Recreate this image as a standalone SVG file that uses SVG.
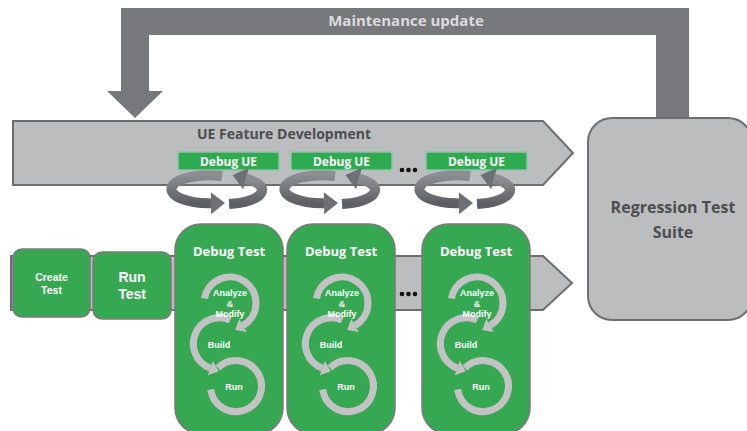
<svg xmlns="http://www.w3.org/2000/svg" width="747" height="431" viewBox="0 0 747 431">
<style>
.band{fill:#bcbdbf;stroke:#6e6e70;stroke-width:2}
.green{fill:#36a852;stroke:#7a7a7a;stroke-width:1.5}
.due{fill:#2eaa4f;stroke:#8fc3ad;stroke-width:1.5}
.t{font-family:"Open Sans","Liberation Sans",sans-serif;font-weight:700;text-anchor:middle}
.s{font-family:"Liberation Sans",Arial,sans-serif;font-weight:700;font-size:9px}
.l{font-family:"Liberation Sans",Arial,sans-serif;font-weight:700}
.w{fill:#ffffff}
.g{fill:#4d4d4f}
.ring{fill:none;stroke:#c3c3c5;stroke-width:7}
.loop{fill:none;stroke:url(#lg);stroke-width:10}
.dot{fill:#111}
</style>
<defs>
<linearGradient id="lg" x1="0" y1="0" x2="0" y2="1">
<stop offset="0" stop-color="#8d8e91"/>
<stop offset="1" stop-color="#5e5f63"/>
</linearGradient>
<marker id="ah" viewBox="0 -8 10 16" refX="0" refY="0" markerWidth="10" markerHeight="16" markerUnits="userSpaceOnUse" orient="auto" overflow="visible">
<path d="M0,-7.5 L9,0 L0,7.5 Z" fill="#c3c3c5"/>
</marker>
<marker id="ahd" viewBox="0 -12 15 24" refX="0" refY="0" markerWidth="15" markerHeight="24" markerUnits="userSpaceOnUse" orient="auto" overflow="visible">
<path d="M0,-11 L14,0 L0,11 Z" fill="#6f7074"/>
</marker>
</defs>

<g id="connectors">
<path id="maintenance-update" d="M121,8 H689 V118 H656 V35 H149 V91 H163 L135,118 L107,91 H121 Z" fill="#77787b"/>
<text class="t" x="406" y="26" font-size="15" fill="#dcdcdd">Maintenance update</text>
</g>

<g id="ue-feature-development">
<polygon class="band" points="13,121 543,121 573,153 543,185 13,185"/>
<text class="t g" x="284" y="139" font-size="14">UE Feature Development</text>
</g>

<g id="test-flow">
<polygon class="band" points="11,256 543,256 572,283 543,310 11,310"/>
</g>

<g id="regression-test-suite">
<rect x="588" y="118" width="164" height="202" rx="24" class="band" stroke-width="2.5"/>
<text class="t g" x="673" y="213" font-size="16">Regression Test</text>
<text class="t g" x="673" y="238" font-size="16">Suite</text>
</g>

<g id="debug-ue-1">
<rect class="due" x="178" y="152" width="101" height="18" rx="2"/>
<text class="t w" x="228.5" y="166" font-size="12">Debug UE</text>
</g>
<g id="debug-ue-2">
<rect class="due" x="291" y="152" width="101" height="18" rx="2"/>
<text class="t w" x="341.5" y="166" font-size="12">Debug UE</text>
</g>
<g id="debug-ue-3">
<rect class="due" x="426" y="152" width="101" height="18" rx="2"/>
<text class="t w" x="476.5" y="166" font-size="12">Debug UE</text>
</g>

<g id="dots-top">
<circle class="dot" cx="402" cy="170" r="2.3"/><circle class="dot" cx="408.5" cy="170" r="2.3"/><circle class="dot" cx="415" cy="170" r="2.3"/>
</g>
<g id="dots-bottom">
<circle class="dot" cx="402" cy="294" r="2.3"/><circle class="dot" cx="408.5" cy="294" r="2.3"/><circle class="dot" cx="415" cy="294" r="2.3"/>
</g>

<g id="loop-1">
<path class="loop" d="M222,176 A38,14 0 1 0 211,203.2" marker-end="url(#ahd)"/>
<path class="loop" d="M229,203.9 A38,14 0 0 0 246,178.6" marker-end="url(#ahd)"/>
</g>
<g id="loop-2" transform="translate(113,0)">
<path class="loop" d="M222,176 A38,14 0 1 0 211,203.2" marker-end="url(#ahd)"/>
<path class="loop" d="M229,203.9 A38,14 0 0 0 246,178.6" marker-end="url(#ahd)"/>
</g>
<g id="loop-3" transform="translate(248,0)">
<path class="loop" d="M222,176 A38,14 0 1 0 211,203.2" marker-end="url(#ahd)"/>
<path class="loop" d="M229,203.9 A38,14 0 0 0 246,178.6" marker-end="url(#ahd)"/>
</g>

<g id="create-test">
<rect class="green" x="13" y="249" width="77" height="68" rx="9"/>
<text class="t l w" x="51.5" y="280.5" font-size="10.5">Create</text>
<text class="t l w" x="51.5" y="293.5" font-size="10.5">Test</text>
</g>
<g id="run-test">
<rect class="green" x="93" y="252" width="78" height="67" rx="9"/>
<text class="t l w" x="132" y="282" font-size="14">Run</text>
<text class="t l w" x="132" y="299" font-size="14">Test</text>
</g>

<g id="debug-test-1">
<rect class="green" x="175" y="224" width="108" height="210" rx="26"/>
<text class="t w" x="229" y="256" font-size="13">Debug Test</text>
<path class="ring" d="M218,368 A25.5,25.5 0 1 1 210.7,389.5"/>
<path class="ring" d="M230.2,320.1 A26,26 0 1 0 210.3,368.1" marker-end="url(#ah)"/>
<path class="ring" d="M204.4,298.5 A26,26 0 1 1 243,325.5" marker-end="url(#ah)"/>
<text class="t w s"><tspan x="230" y="296">Analyze</tspan><tspan x="230" y="306.5">&amp;</tspan><tspan x="230" y="317">Modify</tspan></text>
<text class="t w s" x="219" y="348">Build</text>
<text class="t w s" x="234" y="390">Run</text>
</g>
<g id="debug-test-2" transform="translate(112,0)">
<rect class="green" x="175" y="224" width="108" height="210" rx="26"/>
<text class="t w" x="229" y="256" font-size="13">Debug Test</text>
<path class="ring" d="M218,368 A25.5,25.5 0 1 1 210.7,389.5"/>
<path class="ring" d="M230.2,320.1 A26,26 0 1 0 210.3,368.1" marker-end="url(#ah)"/>
<path class="ring" d="M204.4,298.5 A26,26 0 1 1 243,325.5" marker-end="url(#ah)"/>
<text class="t w s"><tspan x="230" y="296">Analyze</tspan><tspan x="230" y="306.5">&amp;</tspan><tspan x="230" y="317">Modify</tspan></text>
<text class="t w s" x="219" y="348">Build</text>
<text class="t w s" x="234" y="390">Run</text>
</g>
<g id="debug-test-3" transform="translate(247,0)">
<rect class="green" x="175" y="224" width="108" height="210" rx="26"/>
<text class="t w" x="229" y="256" font-size="13">Debug Test</text>
<path class="ring" d="M218,368 A25.5,25.5 0 1 1 210.7,389.5"/>
<path class="ring" d="M230.2,320.1 A26,26 0 1 0 210.3,368.1" marker-end="url(#ah)"/>
<path class="ring" d="M204.4,298.5 A26,26 0 1 1 243,325.5" marker-end="url(#ah)"/>
<text class="t w s"><tspan x="230" y="296">Analyze</tspan><tspan x="230" y="306.5">&amp;</tspan><tspan x="230" y="317">Modify</tspan></text>
<text class="t w s" x="219" y="348">Build</text>
<text class="t w s" x="234" y="390">Run</text>
</g>
</svg>
